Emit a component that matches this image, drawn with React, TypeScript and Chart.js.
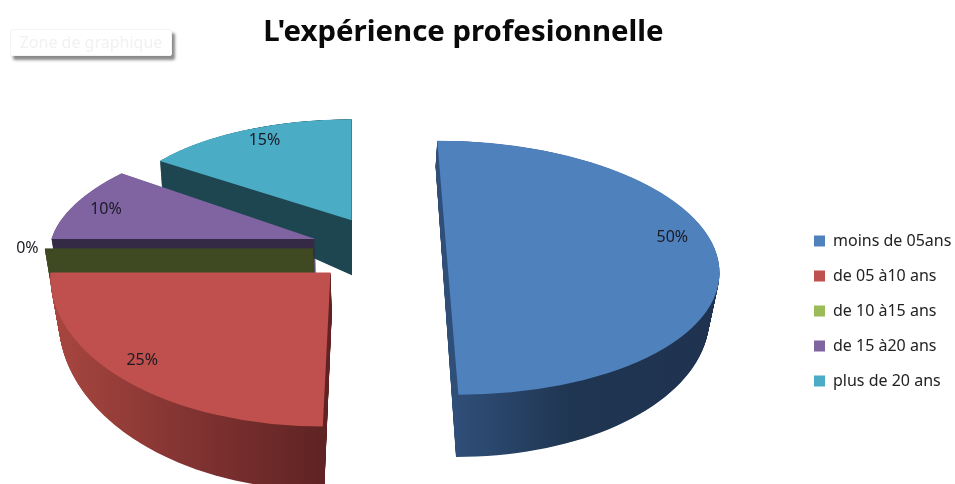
import React, { useEffect, useRef } from "react";
import { Chart, registerables, ArcElement } from "chart.js";

Chart.register(...registerables);

const categories = ["moins de 05ans", "de 05 à10 ans", "de 10 à15 ans", "de 15 à20 ans", "plus de 20 ans"];
const shares = [50, 25, 0, 10, 15];
const topColors = ["#4f81bd", "#c0504d", "#9bbb59", "#8064a2", "#4bacc6"];
const wallStops = [
  ["#2f4e78", "#1f3550", "#1f3350"],
  ["#a8463f", "#853533", "#5f2323"],
  ["#404a22", "#404a22", "#404a22"],
  ["#352a45", "#352a45", "#352a45"],
  ["#1e4650", "#1e4650", "#1e4650"],
];
const wallRange = [[457, 720], [55, 325], [45, 315], [50, 316], [160, 353]];

const explode = [73.5, 62, 61.5, 62, 50];
const lift = [17, 0, -2, -2, -8];
const radiusX = [271.5, 280, 268, 264, 237];
const radiusY = [127, 154, 112, 112, 101];
const shear = [0.083, -0.05, 0, -0.3, 0];
const depth = [44, 42, 40, 40, 55];
const depthSlope = [0.144, 0.14, 0, 0, 0.43];
const taper = [0.03, 0.025, 0.02, 0.02, 0.01];
const labelReach = [0.87, 0.87, 1.065, 0.87, 0.87];
const labelTurn = [-16, 4, 0, 0, 2];

const BASE_RADIUS = 270;
const SQUASH = 0.5;
const VANISH_X = 380;

function sliceFrame(el: any, i: number) {
  const mid = (el.startAngle + el.endAngle) / 2;
  const off = explode[i];
  const ax = el.x + Math.cos(mid) * off;
  const ay = el.y + Math.sin(mid) * off * SQUASH + lift[i];
  const sx = radiusX[i] / BASE_RADIUS;
  const sy = radiusY[i] / BASE_RADIUS;
  const sk = shear[i] * sy;
  return { ax, ay, sx, sy, sk };
}

function project(f: any, dx: number, dy: number) {
  return [f.ax + f.sx * dx + f.sk * dy, f.ay + f.sy * dy];
}

const pie3d = {
  id: "pie3d",
  afterLayout(chart: any) {
    const lg = chart.legend;
    const h = lg.bottom - lg.top;
    const w = lg.right - lg.left;
    lg.left = 795;
    lg.right = lg.left + w;
    lg.top = 311 - h / 2;
    lg.bottom = lg.top + h;
    const t = chart.titleBlock;
    t.left += 6;
    t.right += 6;
  },
  afterDatasetsUpdate(chart: any) {
    chart.getDatasetMeta(0).data.forEach((el: any, i: number) => {
      el.draw = function (ctx: CanvasRenderingContext2D, area: any) {
        const f = sliceFrame(el, i);
        ctx.save();
        ctx.transform(f.sx, 0, f.sk, f.sy, f.ax - f.sx * el.x - f.sk * el.y, f.ay - f.sy * el.y);
        ArcElement.prototype.draw.call(el, ctx, area);
        ctx.restore();
      };
    });
  },
  beforeDatasetsDraw(chart: any) {
    const ctx: CanvasRenderingContext2D = chart.ctx;
    const arcs = chart.getDatasetMeta(0).data;
    [4, 3, 2, 1, 0].forEach((i) => {
      const el = arcs[i];
      const f = sliceFrame(el, i);
      const R = el.outerRadius;
      const outline: number[][] = [[f.ax, f.ay]];
      const steps = 80;
      for (let s = 0; s <= steps; s++) {
        const a = el.startAngle + ((el.endAngle - el.startAngle) * s) / steps;
        outline.push(project(f, R * Math.cos(a), R * Math.sin(a)));
      }
      const g = ctx.createLinearGradient(wallRange[i][0], 0, wallRange[i][1], 0);
      g.addColorStop(0, wallStops[i][0]);
      g.addColorStop(0.45, wallStops[i][1]);
      g.addColorStop(1, wallStops[i][2]);
      ctx.save();
      ctx.fillStyle = g;
      ctx.strokeStyle = g;
      ctx.lineWidth = 1;
      const flat = el.endAngle === el.startAngle;
      const n = Math.ceil(depth[i] * 2);
      for (let k = n; k >= 1; k--) {
        const t = k / n;
        ctx.beginPath();
        outline.forEach((p, idx) => {
          const x = p[0] - t * taper[i] * (p[0] - VANISH_X);
          const y = p[1] + t * (depth[i] + depthSlope[i] * (p[1] - f.ay));
          if (idx === 0) ctx.moveTo(x, y);
          else ctx.lineTo(x, y);
        });
        ctx.closePath();
        if (flat) ctx.stroke();
        else ctx.fill();
      }
      ctx.restore();
    });
  },
  afterDatasetsDraw(chart: any) {
    const ctx: CanvasRenderingContext2D = chart.ctx;
    const arcs = chart.getDatasetMeta(0).data;
    ctx.save();
    ctx.font = '16px "Noto Sans"';
    ctx.fillStyle = "#1a1a24";
    ctx.textAlign = "center";
    ctx.textBaseline = "middle";
    arcs.forEach((el: any, i: number) => {
      const f = sliceFrame(el, i);
      const a = (el.startAngle + el.endAngle) / 2 + (labelTurn[i] * Math.PI) / 180;
      const r = el.outerRadius * labelReach[i];
      const p = project(f, r * Math.cos(a), r * Math.sin(a));
      ctx.fillText(shares[i] + "%", p[0], p[1]);
    });
    ctx.restore();
  },
};

export default function App() {
  const ref = useRef<HTMLCanvasElement>(null);
  useEffect(() => {
    const chart = new Chart(ref.current as HTMLCanvasElement, {
      type: "pie",
      data: {
        labels: categories,
        datasets: [
          {
            data: shares,
            backgroundColor: topColors,
            borderWidth: 0,
            clip: false,
          } as any,
        ],
      },
      options: {
        animation: false,
        responsive: false,
        radius: BASE_RADIUS,
        layout: { padding: { right: 40, bottom: 43 } },
        plugins: {
          title: {
            display: true,
            text: "L'expérience profesionnelle",
            color: "#0a0a0a",
            font: { family: '"Noto Sans"', size: 29.4, weight: "bold" },
            padding: { top: 15, bottom: 10 },
          },
          legend: {
            position: "right",
            labels: {
              color: "#222222",
              font: { family: '"Noto Sans"', size: 16 },
              boxWidth: 11,
              boxHeight: 11,
              padding: 19,
            },
          },
          tooltip: { enabled: false },
        },
      } as any,
      plugins: [pie3d as any],
    });
    return () => chart.destroy();
  }, []);
  return (
    <div style={{ position: "fixed", left: 0, top: 0, width: 955, height: 484, overflow: "hidden", background: "#fff" }}>
      <canvas ref={ref} width={955} height={484} style={{ display: "block" }} />
      <div
        style={{
          position: "absolute",
          left: 10,
          top: 29,
          width: 162,
          height: 27,
          boxSizing: "border-box",
          border: "1px solid #f4f4f4",
          borderRadius: 2,
          background: "#fff",
          boxShadow: "3px 4px 3px #8a8a8a",
          color: "#f1f1f1",
          font: '16px/25px "Noto Sans"',
          textAlign: "center",
        }}
      >
        Zone de graphique
      </div>
    </div>
  );
}
